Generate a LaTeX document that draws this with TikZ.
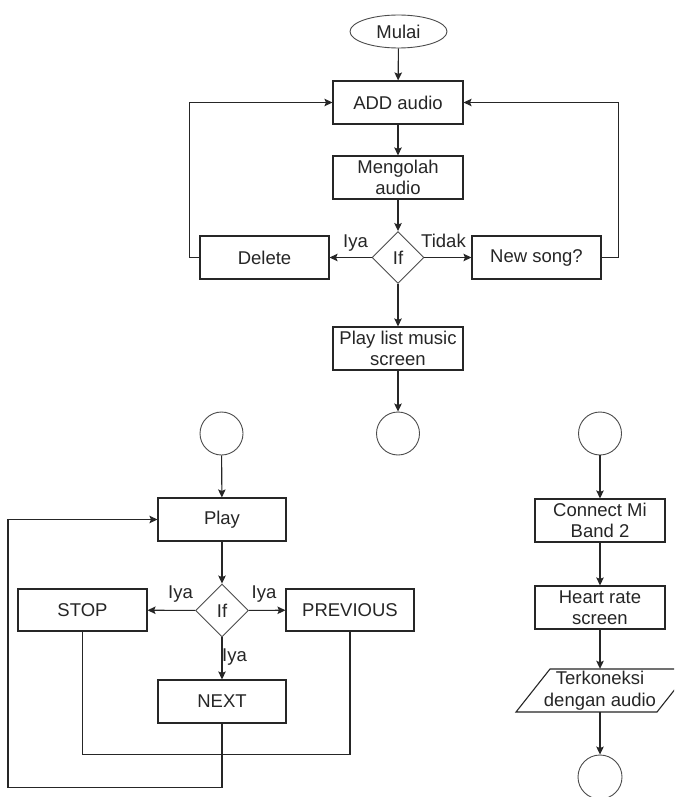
\documentclass[tikz,border=0pt]{standalone}
\usepackage{fontspec}
\setmainfont{Liberation Sans}
\usetikzlibrary{shapes.geometric,arrows.meta}
\begin{document}
\begin{tikzpicture}[x=1pt,y=-1pt,
  every node/.style={font=\fontsize{18.5}{21.5}\selectfont, text=black!85},
  line/.style={draw=black!85, line width=1.1pt},
  arr/.style={line, -{Stealth[length=8pt,width=7.5pt,inset=1.5pt]}},
  proc/.style={line, rectangle, minimum width=130, minimum height=43, inner sep=0, align=center},
  decide/.style={draw=black!70, line width=0.9pt, diamond, minimum width=52, minimum height=52, inner sep=0},
  term/.style={draw=black!70, line width=0.9pt, circle, minimum size=43, inner sep=0},
  lbl/.style={anchor=base, inner sep=0}]
\clip (0,0) rectangle (674,797);
\fill[white] (0,0) rectangle (674,797);

% ---- audio input flow ----
\node[draw=black!70, line width=0.9pt, ellipse, minimum width=97, minimum height=33, inner sep=0] (mulai) at (398.5,31.5) {Mulai};
\node[proc] (add) at (398,102.5) {ADD audio};
\node[proc] (olah) at (398,177.5) {Mengolah\\audio};
\node[decide] (if1) at (398,257.5) {If};
\node[proc, minimum width=129] (delete) at (264.5,257.5) {Delete};
\node[proc, minimum width=129] (newsong) at (536.5,257.5) {New song?};
\node[proc] (playlist) at (398,348.5) {Play list music\\screen};
\node[term] (c1) at (398,433.5) {};

\draw[arr] (mulai) -- (add);
\draw[arr] (add) -- (olah);
\draw[arr] (olah) -- (if1);
\draw[arr] (if1) -- (delete);
\draw[arr] (if1) -- (newsong);
\draw[arr] (if1) -- (playlist);
\draw[arr] (playlist) -- (c1);
\draw[arr] (delete.west) -- ++(-10,0) |- (add.west);
\draw[arr] (newsong.east) -- ++(17,0) |- (add.east);
\node[lbl] (l1) at (355.5,247) {Iya};
\node[lbl] (l2) at (443.5,247) {Tidak};

% ---- playback flow ----
\node[term] (c2) at (221.5,433.5) {};
\node[proc, minimum width=128] (play) at (222,519.5) {Play};
\node[decide, minimum width=53, minimum height=53] (if2) at (222,610.5) {If};
\node[proc, minimum width=129, minimum height=42] (stop) at (82.5,610) {STOP};
\node[proc, minimum width=128, minimum height=42] (prev) at (350,610) {PREVIOUS};
\node[proc, minimum width=128] (next) at (222,701.5) {NEXT};

\draw[arr] (c2) -- (play);
\draw[arr] (play) -- (if2);
\draw[arr] (if2) -- (stop);
\draw[arr] (if2) -- (prev);
\draw[arr] (if2) -- (next);
\draw[line] (stop.south) -- ++(0,123) -| (prev.south);
\draw[arr] (next.south) -- ++(0,64) -- ++(-214,0) |- (play.west);
\node[lbl] (l3) at (180.5,598) {Iya};
\node[lbl] (l4) at (264,598) {Iya};
\node[lbl] (l5) at (234.5,661) {Iya};

% ---- heart rate flow ----
\node[term] (c3) at (600,433.5) {};
\node[proc] (connect) at (600,520.5) {Connect Mi\\Band 2};
\node[proc] (heart) at (600,607.5) {Heart rate\\screen};
\draw[line] (516,712) -- (550,669) -- (691,669) -- (657,712) -- cycle;
\node[inner sep=0, minimum height=43, align=center] (terk) at (600,690.5) {Terkoneksi\\dengan audio};
\node[term, minimum size=44] (c4) at (600,777) {};

\draw[arr] (c3) -- (connect);
\draw[arr] (connect) -- (heart);
\draw[arr] (heart) -- (terk);
\draw[arr] (terk) -- (c4);
\end{tikzpicture}
\end{document}
